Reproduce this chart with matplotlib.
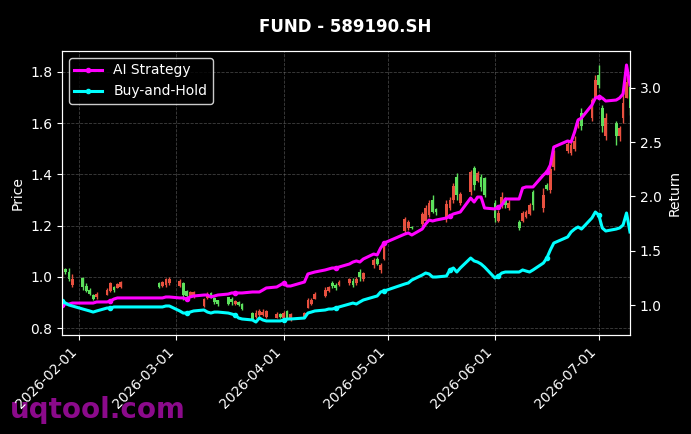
import matplotlib
matplotlib.use("Agg")
import matplotlib.pyplot as plt
import matplotlib.dates as mdates
import pandas as pd

# trading calendar (A-share), Jan 27 - Jul 10 2026
holidays = ["2026-02-16", "2026-02-17", "2026-02-18", "2026-02-19", "2026-02-20",
            "2026-02-23", "2026-04-06", "2026-05-01", "2026-05-04", "2026-05-05",
            "2026-06-19"]
dates = [d for d in pd.bdate_range("2026-01-27", "2026-07-10") if d.strftime("%Y-%m-%d") not in holidays]

opens = [1.00, 1.03, 1.02, 0.97, 0.995, 0.965, 0.95, 0.93, 0.92, 0.93,
         0.945, 0.96, 0.955, 0.962, 0.975, 0.965, 0.97, 0.975, 0.965, 0.975,
         0.945, 0.925, 0.92, 0.885, 0.918, 0.938, 0.918, 0.908, 0.92, 0.915,
         0.895, 0.90, 0.895, 0.86, 0.845, 0.85, 0.85, 0.845, 0.84, 0.855,
         0.84, 0.865, 0.832, 0.845, 0.88, 0.895, 0.915, 0.925, 0.945, 0.975,
         0.97, 0.97, 0.975, 0.985, 0.975, 1.02, 0.99, 1.045, 1.07, 1.025,
         1.07, 1.18, 1.19, 1.195, 1.205, 1.22, 1.24, 1.30, 1.265, 1.225,
         1.27, 1.30, 1.39, 1.29, 1.33, 1.425, 1.375, 1.39, 1.385, 1.29,
         1.22, 1.28, 1.30, 1.27, 1.215, 1.22, 1.235, 1.245, 1.33, 1.27,
         1.36, 1.34, 1.43, 1.49, 1.485, 1.50, 1.59, 1.64, 1.62, 1.70,
         1.79, 1.66, 1.55, 1.60, 1.55, 1.62, 1.70, 1.74]
highs = [1.04, 1.035, 1.035, 1.01, 1.00, 0.975, 0.955, 0.935, 0.94, 0.956,
         0.98, 0.965, 0.976, 0.985, 0.98, 0.985, 0.995, 1.00, 0.99, 0.98,
         0.95, 0.945, 0.945, 0.917, 0.94, 0.942, 0.92, 0.91, 0.922, 0.92,
         0.91, 0.905, 0.898, 0.862, 0.87, 0.875, 0.873, 0.872, 0.862, 0.86,
         0.865, 0.87, 0.86, 0.863, 0.917, 0.918, 0.94, 0.96, 0.965, 0.982,
         0.975, 0.988, 0.995, 0.995, 1.00, 1.03, 1.02, 1.073, 1.077, 1.054,
         1.13, 1.234, 1.222, 1.20, 1.253, 1.28, 1.30, 1.32, 1.27, 1.30,
         1.31, 1.366, 1.405, 1.33, 1.417, 1.433, 1.415, 1.40, 1.39, 1.30,
         1.26, 1.33, 1.31, 1.30, 1.222, 1.257, 1.26, 1.29, 1.34, 1.347,
         1.366, 1.437, 1.495, 1.534, 1.527, 1.55, 1.62, 1.66, 1.70, 1.788,
         1.827, 1.671, 1.64, 1.61, 1.59, 1.722, 1.788, 1.749]
lows = [0.995, 1.01, 0.985, 0.96, 0.948, 0.94, 0.93, 0.91, 0.915, 0.928,
        0.94, 0.94, 0.955, 0.958, 0.958, 0.96, 0.96, 0.97, 0.96, 0.91,
        0.92, 0.92, 0.918, 0.882, 0.915, 0.918, 0.895, 0.888, 0.89, 0.89,
        0.89, 0.885, 0.87, 0.83, 0.84, 0.845, 0.848, 0.84, 0.838, 0.838,
        0.835, 0.831, 0.828, 0.839, 0.878, 0.89, 0.912, 0.92, 0.94, 0.955,
        0.95, 0.965, 0.97, 0.96, 0.97, 0.985, 0.985, 1.035, 1.045, 1.015,
        1.066, 1.17, 1.183, 1.185, 1.20, 1.214, 1.234, 1.25, 1.24, 1.214,
        1.26, 1.29, 1.30, 1.28, 1.32, 1.34, 1.37, 1.335, 1.31, 1.214,
        1.214, 1.27, 1.27, 1.26, 1.183, 1.214, 1.23, 1.24, 1.26, 1.253,
        1.34, 1.327, 1.417, 1.484, 1.476, 1.49, 1.58, 1.573, 1.61, 1.698,
        1.7375, 1.566, 1.534, 1.515, 1.53, 1.60, 1.698, 1.632]
closes = [1.03, 1.02, 0.99, 0.99, 0.96, 0.945, 0.935, 0.915, 0.935, 0.95,
          0.975, 0.948, 0.972, 0.98, 0.962, 0.98, 0.99, 0.99, 0.985, 0.93,
          0.925, 0.94, 0.94, 0.912, 0.935, 0.922, 0.90, 0.895, 0.895, 0.90,
          0.905, 0.89, 0.875, 0.835, 0.86, 0.865, 0.862, 0.865, 0.855, 0.842,
          0.86, 0.835, 0.855, 0.86, 0.91, 0.91, 0.935, 0.95, 0.96, 0.965,
          0.955, 0.98, 0.99, 0.97, 0.99, 1.00, 1.015, 1.065, 1.05, 1.045,
          1.12, 1.225, 1.215, 1.19, 1.245, 1.27, 1.29, 1.255, 1.255, 1.285,
          1.30, 1.355, 1.32, 1.325, 1.41, 1.36, 1.405, 1.35, 1.32, 1.23,
          1.25, 1.31, 1.28, 1.29, 1.19, 1.25, 1.255, 1.28, 1.28, 1.32,
          1.345, 1.42, 1.48, 1.52, 1.515, 1.53, 1.61, 1.59, 1.69, 1.77,
          1.75, 1.59, 1.62, 1.55, 1.58, 1.68, 1.76, 1.66]

ai_strategy = [1.000, 1.009, 1.009, 1.018, 1.018, 1.018, 1.018, 1.018, 1.028, 1.028,
               1.037, 1.055, 1.065, 1.065, 1.065, 1.065, 1.074, 1.074, 1.065, 1.065,
               1.055, 1.074, 1.083, 1.092, 1.092, 1.074, 1.083, 1.092, 1.101, 1.111,
               1.111, 1.111, 1.111, 1.120, 1.120, 1.120, 1.138, 1.157, 1.166, 1.184,
               1.203, 1.175, 1.175, 1.212, 1.286, 1.295, 1.304, 1.323, 1.332, 1.341,
               1.341, 1.350, 1.378, 1.396, 1.406, 1.396, 1.424, 1.470, 1.461, 1.525,
               1.571, 1.654, 1.664, 1.645, 1.700, 1.747, 1.783, 1.774, 1.783, 1.802,
               1.820, 1.839, 1.848, 1.857, 1.986, 1.949, 1.995, 1.995, 1.894, 1.885,
               1.903, 1.922, 1.977, 1.977, 1.977, 2.078, 2.088, 2.088, 2.088, 2.198,
               2.226, 2.290, 2.456, 2.512, 2.502, 2.594, 2.705, 2.724, 2.843, 2.908,
               2.917, 2.908, 2.880, 2.889, 2.908, 2.945, 3.212, 3.028]
buy_hold = [1.037, 1.018, 1.000, 0.991, 0.963, 0.954, 0.945, 0.935, 0.945, 0.972,
            0.972, 0.982, 0.982, 0.982, 0.982, 0.982, 0.991, 0.991, 0.945, 0.926,
            0.926, 0.935, 0.945, 0.954, 0.935, 0.926, 0.935, 0.935, 0.926, 0.917,
            0.908, 0.880, 0.871, 0.862, 0.843, 0.880, 0.862, 0.853, 0.853, 0.853,
            0.862, 0.871, 0.871, 0.880, 0.926, 0.935, 0.945, 0.954, 0.963, 0.963,
            0.972, 0.982, 1.009, 1.018, 1.009, 1.028, 1.046, 1.074, 1.083, 1.120,
            1.129, 1.194, 1.203, 1.230, 1.276, 1.295, 1.286, 1.258, 1.258, 1.267,
            1.323, 1.341, 1.304, 1.341, 1.433, 1.406, 1.396, 1.378, 1.350, 1.249,
            1.267, 1.295, 1.304, 1.304, 1.304, 1.323, 1.313, 1.304, 1.323, 1.387,
            1.433, 1.507, 1.571, 1.627, 1.673, 1.700, 1.719, 1.700, 1.802, 1.857,
            1.829, 1.710, 1.682, 1.700, 1.710, 1.737, 1.848, 1.673]

UP_COLOR = "#e8503f"
DOWN_COLOR = "#5ce05c"


def main():
    fig = plt.figure(figsize=(6.91, 4.34), dpi=100, facecolor="black")
    ax = fig.add_axes([0.0897, 0.2281, 0.8220, 0.6544], facecolor="black")

    # candlesticks on the price axis
    for d, o, h, l, c in zip(dates, opens, highs, lows, closes):
        color = UP_COLOR if c >= o else DOWN_COLOR
        ax.vlines(d, l, h, color=color, linewidth=1)
        ax.bar(d, abs(c - o), bottom=min(o, c), width=0.8, color=color, linewidth=0)

    ax.set_ylim(0.773, 1.882)
    ax.set_xlim(dates[0], dates[-1])
    ax.set_ylabel("Price", color="white", fontsize=10)
    ax.grid(True, color="gray", linestyle="--", linewidth=0.6, alpha=0.5)
    ax.xaxis.set_major_locator(mdates.MonthLocator())
    ax.xaxis.set_major_formatter(mdates.DateFormatter("%Y-%m-%d"))
    ax.tick_params(colors="white", labelsize=10)
    plt.setp(ax.get_xticklabels(), rotation=45, ha="right")
    for sp in ax.spines.values():
        sp.set_color("white")

    # strategy returns on the twin axis
    ax2 = ax.twinx()
    ax2.plot(dates, ai_strategy, color="magenta", linewidth=2.2, marker="o",
             markersize=3, markevery=10, label="AI Strategy")
    ax2.plot(dates, buy_hold, color="cyan", linewidth=2.2, marker="o",
             markersize=3, markevery=10, label="Buy-and-Hold")
    ax2.set_ylim(0.7235, 3.341)
    ax2.set_ylabel("Return", color="white", fontsize=10)
    ax2.tick_params(colors="white", labelsize=10)
    for sp in ax2.spines.values():
        sp.set_color("white")

    leg = ax2.legend(loc="upper left", fontsize=10, facecolor="black", edgecolor="white")
    for t in leg.get_texts():
        t.set_color("white")

    fig.suptitle("FUND - 589190.SH", color="white", fontsize=12, fontweight="bold", y=0.958)
    fig.text(0.014, 0.037, "uqtool.com", color="#8b0a8b", fontsize=20, fontweight="bold",
             zorder=-1)

    fig.savefig("out.png", dpi=100, facecolor="black")


if __name__ == "__main__":
    main()
